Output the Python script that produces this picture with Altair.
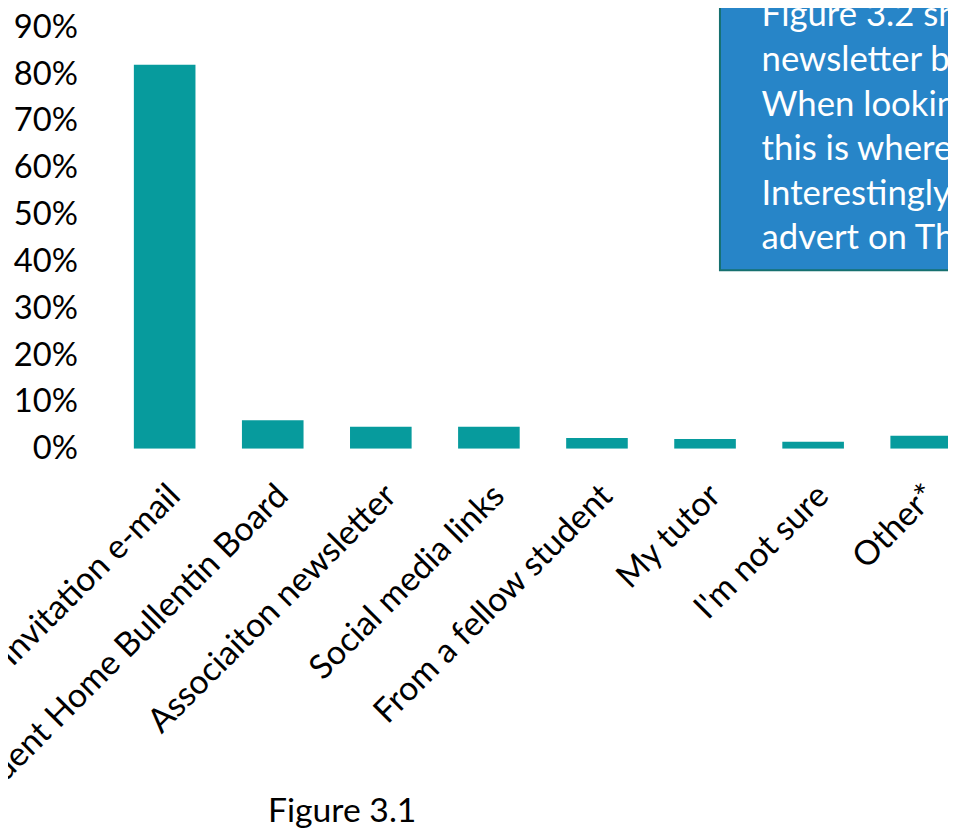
import json
import altair as alt
import pandas as pd

categories = ["Invitation e-mail", "Student Home Bullentin Board", "Associaiton newsletter",
              "Social media links", "From a fellow student", "My tutor", "I'm not sure", "Other*"]
shares = [0.82, 0.061, 0.047, 0.047, 0.023, 0.021, 0.015, 0.028]
y_ticks = [0.0, 0.1, 0.2, 0.3, 0.4, 0.5, 0.6, 0.7, 0.8, 0.9]
box_lines = ["Figure 3.2 shows", "newsletter being", "When looking", "this is where",
             "Interestingly,", "advert on The"]
caption = "Figure 3.1"

FONT = "Lato"
df = pd.DataFrame({"idx": list(range(len(categories))), "category": categories, "share": shares})

xscale = alt.Scale(domain=[-0.7156, 7.248], nice=False, zero=False)
yscale = alt.Scale(domain=[0, 0.9], nice=False)

label_expr = json.dumps(categories) + "[datum.value]"

bars = alt.Chart(df).mark_bar(color="#079B9D", clip=True).transform_calculate(
    lo="datum.idx - 0.285", hi="datum.idx + 0.285"
).encode(
    x=alt.X("lo:Q", scale=xscale, title=None,
            axis=alt.Axis(values=list(range(len(categories))), labelExpr=label_expr,
                          labelAngle=-45, labelAlign="right", labelBaseline="middle",
                          labelPadding=42, labelOffset=10, labelFontSize=34, labelFont=FONT,
                          labelColor="black", labelOverlap=False, labelFlush=False,
                          ticks=False, domain=False, grid=False, labelLimit=0)),
    x2="hi:Q",
    y=alt.Y("share:Q", scale=yscale, title=None,
            axis=alt.Axis(values=y_ticks, format=".0%", labelFontSize=33, labelFont=FONT,
                          labelColor="black", ticks=False, domain=False, grid=False,
                          labelPadding=10)),
    y2=alt.datum(0),
)

box = alt.Chart(df).mark_rect(fill="#2785C8", stroke="#16706F", strokeWidth=2).encode(
    x=alt.value(638), x2=alt.value(1000), y=alt.value(-60), y2=alt.value(245)
).transform_filter("datum.idx == 0")

box_text = alt.Chart(df).mark_text(
    text=box_lines, color="white", font=FONT, fontSize=35, lineHeight=45,
    align="left", baseline="alphabetic"
).encode(x=alt.value(680), y=alt.value(-1)).transform_filter("datum.idx == 0")

cap = alt.Chart(df).mark_text(
    text=caption, color="black", font=FONT, fontSize=34, align="center", baseline="alphabetic"
).encode(x=alt.value(257), y=alt.value(801)).transform_filter("datum.idx == 0")

chart = alt.layer(bars, box, box_text, cap).properties(
    width=868, height=425,
    autosize=alt.AutoSizeParams(type="none"),
    padding={"left": 80, "top": 16, "right": 0, "bottom": 379},
).configure_view(stroke=None)

chart.save("out.html", embed_options={"renderer": "svg", "actions": False})
